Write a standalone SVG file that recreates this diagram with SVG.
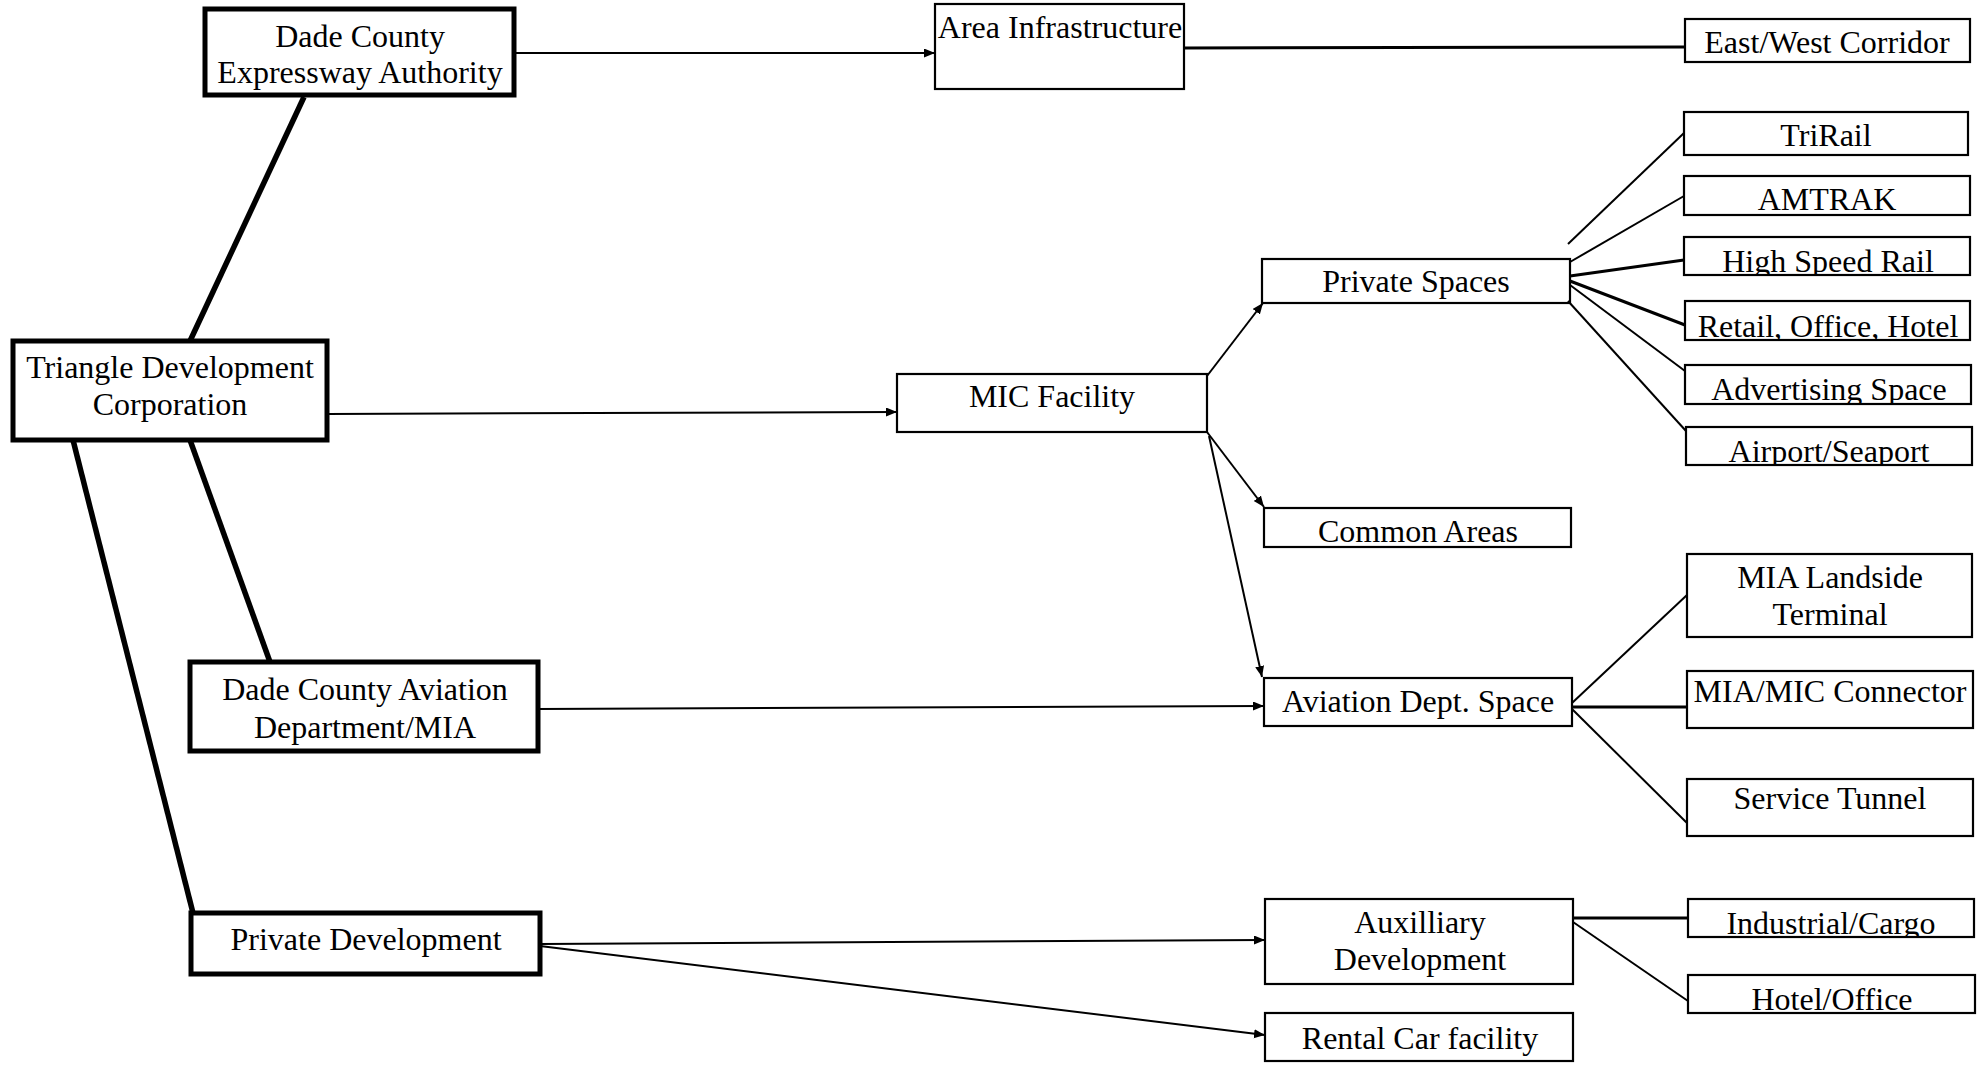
<svg xmlns="http://www.w3.org/2000/svg" width="1986" height="1069" viewBox="0 0 1986 1069">
<style>
  .box { fill: none; stroke: #000; stroke-width: 2.2; }
  .thick { fill: none; stroke: #000; stroke-width: 5; }
  text { font-family: "Liberation Serif", "Times New Roman", serif; font-size: 32px; fill: #000; text-anchor: middle; }
  .c { stroke: #000; stroke-width: 2; fill: none; }
  .c3 { stroke: #000; stroke-width: 3; fill: none; }
  .ck { stroke: #000; stroke-width: 5.5; fill: none; }
  .a { stroke: #000; stroke-width: 2; fill: none; marker-end: url(#arr); }
</style>
<defs>
  <marker id="arr" markerUnits="userSpaceOnUse" markerWidth="12" markerHeight="10" refX="11" refY="4.5" orient="auto">
    <path d="M0,0 L11,4.5 L0,9 z" fill="#000"/>
  </marker>
  <clipPath id="clHsr"><rect x="1684" y="237" width="286" height="37"/></clipPath>
  <clipPath id="clRet"><rect x="1685" y="301" width="285" height="38"/></clipPath>
  <clipPath id="clAdv"><rect x="1685" y="365" width="286" height="38"/></clipPath>
  <clipPath id="clAir"><rect x="1686" y="427" width="286" height="37"/></clipPath>
  <clipPath id="clInd"><rect x="1688" y="899" width="286" height="37"/></clipPath>
  <clipPath id="clHot"><rect x="1688" y="975" width="287" height="37"/></clipPath>
</defs>
<rect width="1986" height="1069" fill="#fff"/>

<g id="connectors">
  <line class="ck" x1="304" y1="97" x2="190" y2="341"/>
  <line class="ck" x1="190" y1="440" x2="270" y2="662"/>
  <line class="ck" x1="73" y1="440" x2="193" y2="913"/>
  <line class="a" x1="516" y1="53" x2="935" y2="53"/>
  <line class="a" x1="327" y1="414" x2="897" y2="412"/>
  <line class="a" x1="538" y1="709" x2="1264" y2="706"/>
  <line class="a" x1="540" y1="944" x2="1265" y2="940"/>
  <line class="a" x1="540" y1="946" x2="1265" y2="1035"/>
  <line class="a" x1="1207" y1="376" x2="1263" y2="303"/>
  <line class="a" x1="1207" y1="432" x2="1264" y2="507"/>
  <line class="a" x1="1209" y1="436" x2="1262" y2="677"/>
  <line class="c3" x1="1184" y1="48" x2="1685" y2="47"/>
  <line class="c" x1="1568" y1="244" x2="1684" y2="133"/>
  <line class="c" x1="1570" y1="262" x2="1684" y2="196"/>
  <line class="c3" x1="1570" y1="276" x2="1684" y2="260"/>
  <line class="c3" x1="1570" y1="281" x2="1685" y2="325"/>
  <line class="c" x1="1570" y1="285" x2="1685" y2="371"/>
  <line class="c" x1="1568" y1="301" x2="1686" y2="431"/>
  <line class="c" x1="1572" y1="703" x2="1687" y2="595"/>
  <line class="c3" x1="1572" y1="707" x2="1687" y2="707"/>
  <line class="c" x1="1572" y1="709" x2="1687" y2="823"/>
  <line class="c3" x1="1573" y1="918" x2="1688" y2="918"/>
  <line class="c" x1="1573" y1="922" x2="1688" y2="1001"/>
</g>

<g id="dade-expressway">
  <rect class="thick" x="205" y="9" width="309" height="86"/>
  <text x="360" y="47">Dade County</text>
  <text x="360" y="83">Expressway Authority</text>
</g>
<g id="area-infrastructure">
  <rect class="box" x="935" y="4" width="249" height="85"/>
  <text x="1060" y="38">Area Infrastructure</text>
</g>
<g id="east-west-corridor">
  <rect class="box" x="1685" y="19" width="285" height="43"/>
  <text x="1827" y="53">East/West Corridor</text>
</g>
<g id="trirail">
  <rect class="box" x="1684" y="112" width="284" height="43"/>
  <text x="1826" y="146">TriRail</text>
</g>
<g id="amtrak">
  <rect class="box" x="1684" y="176" width="286" height="39"/>
  <text x="1827" y="210">AMTRAK</text>
</g>
<g id="high-speed-rail">
  <text x="1828" y="272" clip-path="url(#clHsr)">High Speed Rail</text>
  <rect class="box" x="1684" y="237" width="286" height="38"/>
</g>
<g id="retail-office-hotel">
  <text x="1828" y="337" clip-path="url(#clRet)">Retail, Office, Hotel</text>
  <rect class="box" x="1685" y="301" width="285" height="39"/>
</g>
<g id="advertising-space">
  <text x="1829" y="400" clip-path="url(#clAdv)">Advertising Space</text>
  <rect class="box" x="1685" y="365" width="286" height="39"/>
</g>
<g id="airport-seaport">
  <text x="1829" y="462" clip-path="url(#clAir)">Airport/Seaport</text>
  <rect class="box" x="1686" y="427" width="286" height="38"/>
</g>
<g id="private-spaces">
  <rect class="box" x="1262" y="259" width="308" height="44"/>
  <text x="1416" y="292">Private Spaces</text>
</g>
<g id="mic-facility">
  <rect class="box" x="897" y="374" width="310" height="58"/>
  <text x="1052" y="407">MIC Facility</text>
</g>
<g id="common-areas">
  <rect class="box" x="1264" y="508" width="307" height="39"/>
  <text x="1418" y="542">Common Areas</text>
</g>
<g id="triangle-development">
  <rect class="thick" x="13" y="341" width="314" height="99"/>
  <text x="170" y="378">Triangle Development</text>
  <text x="170" y="415">Corporation</text>
</g>
<g id="dade-aviation">
  <rect class="thick" x="190" y="662" width="348" height="89"/>
  <text x="365" y="700">Dade County Aviation</text>
  <text x="365" y="738">Department/MIA</text>
</g>
<g id="aviation-dept-space">
  <rect class="box" x="1264" y="678" width="308" height="48"/>
  <text x="1418" y="712">Aviation Dept. Space</text>
</g>
<g id="mia-landside">
  <rect class="box" x="1687" y="554" width="285" height="83"/>
  <text x="1830" y="588">MIA Landside</text>
  <text x="1830" y="625">Terminal</text>
</g>
<g id="mia-mic-connector">
  <rect class="box" x="1687" y="671" width="286" height="57"/>
  <text x="1830" y="702">MIA/MIC Connector</text>
</g>
<g id="service-tunnel">
  <rect class="box" x="1687" y="779" width="286" height="57"/>
  <text x="1830" y="809">Service Tunnel</text>
</g>
<g id="private-development">
  <rect class="thick" x="191" y="913" width="349" height="61"/>
  <text x="366" y="950">Private Development</text>
</g>
<g id="auxilliary-development">
  <rect class="box" x="1265" y="899" width="308" height="85"/>
  <text x="1420" y="933">Auxilliary</text>
  <text x="1420" y="970">Development</text>
</g>
<g id="industrial-cargo">
  <text x="1831" y="934" clip-path="url(#clInd)">Industrial/Cargo</text>
  <rect class="box" x="1688" y="899" width="286" height="38"/>
</g>
<g id="hotel-office">
  <text x="1832" y="1010" clip-path="url(#clHot)">Hotel/Office</text>
  <rect class="box" x="1688" y="975" width="287" height="38"/>
</g>
<g id="rental-car">
  <rect class="box" x="1265" y="1013" width="308" height="48"/>
  <text x="1420" y="1049">Rental Car facility</text>
</g>
</svg>
